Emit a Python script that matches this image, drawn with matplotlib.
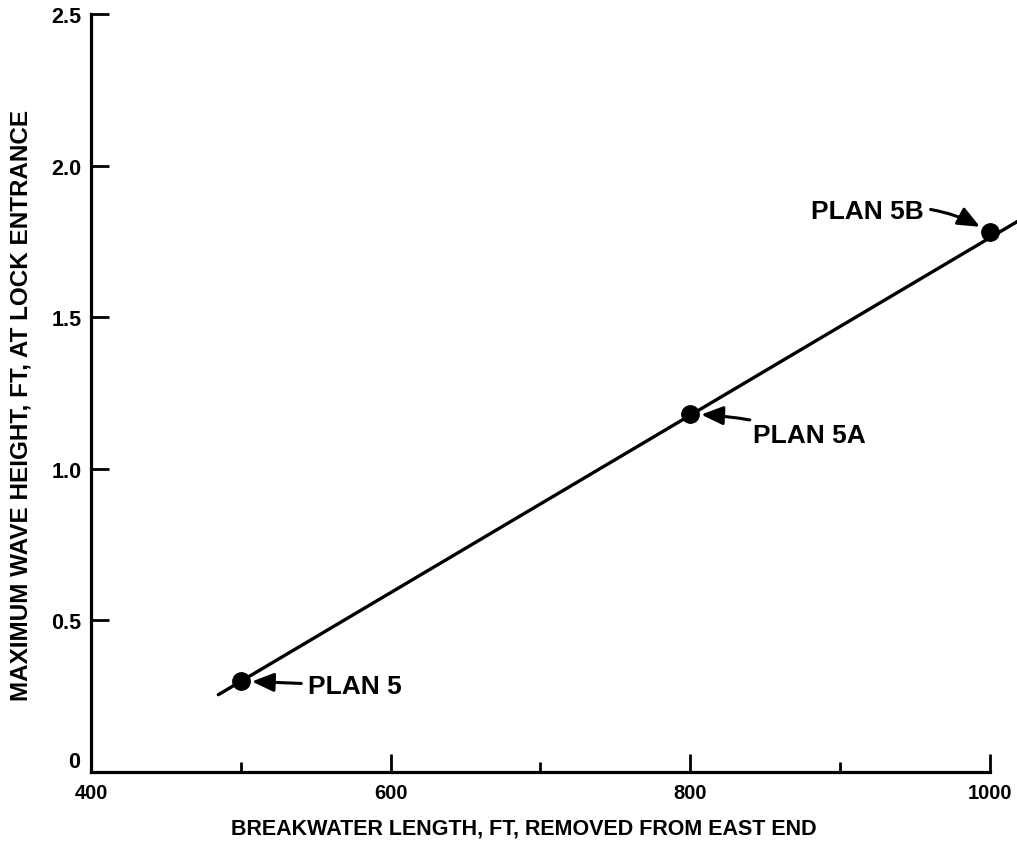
import matplotlib
matplotlib.use("Agg")
import matplotlib.pyplot as plt
import matplotlib.transforms as mtransforms

# Data
plan_names = ["PLAN 5", "PLAN 5A", "PLAN 5B"]
plan_length = [500, 800, 1000]
plan_height = [0.30, 1.18, 1.78]
line_x = [485, 1020]
line_y = [0.255, 1.82]
x_major_ticks = [400, 600, 800, 1000]
x_minor_ticks = [500, 700, 900]
y_ticks = [0, 0.5, 1.0, 1.5, 2.0, 2.5]
y_tick_labels = ["", "0.5", "1.0", "1.5", "2.0", "2.5"]

plt.rcParams['font.family'] = ['Liberation Sans', 'DejaVu Sans']
plt.rcParams['font.weight'] = 'bold'
plt.rcParams['axes.labelweight'] = 'bold'

fig = plt.figure(figsize=(10.17, 8.45), dpi=100)
ax = fig.add_axes([0.0895, 0.0852, 0.913, 0.897])
ax.set_xlim(400, 1020)
ax.set_ylim(0, 2.5)

ax.plot(line_x, line_y, color='black', lw=2.4, solid_capstyle='round', clip_on=False)
ax.plot(plan_length, plan_height, 'o', color='black', ms=12.5, clip_on=False, zorder=5)

for sp in ['top', 'right']:
    ax.spines[sp].set_visible(False)
ax.spines['left'].set_linewidth(2.3)
ax.spines['bottom'].set_linewidth(2.3)
ax.spines['bottom'].set_bounds(400, 1000)

ax.set_xticks(x_major_ticks)
ax.set_xticklabels([str(v) for v in x_major_ticks])
ax.set_xticks(x_minor_ticks, minor=True)
ax.tick_params(axis='x', which='major', direction='in', length=13, width=2, labelsize=14.5, pad=8)
ax.tick_params(axis='x', which='minor', direction='in', length=7.5, width=2)
ax.xaxis.get_major_ticks()[0].tick1line.set_visible(False)
ax.set_yticks(y_ticks)
ax.set_yticklabels(y_tick_labels)
ax.tick_params(axis='y', direction='in', length=13, width=2, labelsize=15.5, pad=7)
ax.yaxis.get_major_ticks()[0].tick1line.set_visible(False)

# "0" label sits just above the x spine
off = mtransforms.offset_copy(ax.transData, fig=fig, x=-8, y=0, units='points')
ax.text(400, 0, "0", ha='right', va='bottom', fontsize=15.5, transform=off)

ax.set_xlabel("BREAKWATER LENGTH, FT, REMOVED FROM EAST END", fontsize=15.5)
ax.xaxis.set_label_coords(0.466, -0.0594)
ax.set_ylabel("MAXIMUM WAVE HEIGHT, FT, AT LOCK ENTRANCE", fontsize=17.5)
ax.yaxis.set_label_coords(-0.0635, 0.4855)

arrow = dict(arrowstyle='-|>,head_length=0.7,head_width=0.3', color='black', lw=2.2,
             shrinkA=3, shrinkB=8)
ax.annotate(plan_names[0], xy=(plan_length[0], plan_height[0]), xytext=(545, 0.285),
            ha='left', va='center', fontsize=19, arrowprops=arrow)
ax.annotate(plan_names[1], xy=(plan_length[1], plan_height[1]), xytext=(842, 1.11),
            ha='left', va='center', fontsize=19,
            arrowprops=dict(arrow, connectionstyle='arc3,rad=0.08'))
ax.annotate(plan_names[2], xy=(plan_length[2], plan_height[2]), xytext=(956, 1.85),
            ha='right', va='center', fontsize=19,
            arrowprops=dict(arrow, connectionstyle='arc3,rad=-0.2'))

fig.savefig("out.png", dpi=100)
